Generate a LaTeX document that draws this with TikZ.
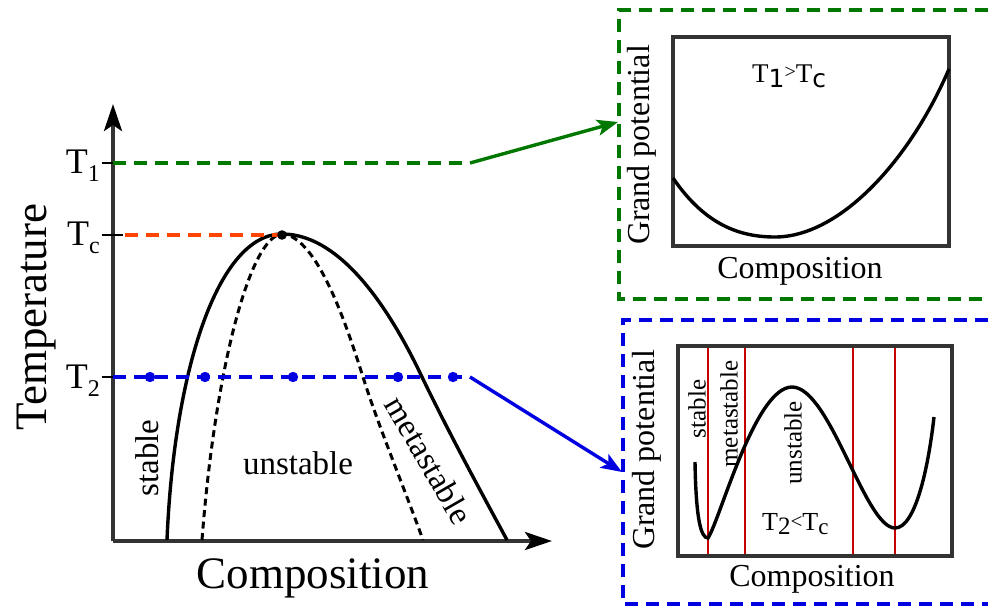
\documentclass[tikz,border=0pt]{standalone}
\usepackage{fontspec}
\setmainfont{Liberation Serif}
\newfontfamily\dvs{DejaVu Sans}
\usetikzlibrary{arrows.meta}
\definecolor{ggreen}{RGB}{0,120,0}
\definecolor{bblue}{RGB}{0,0,225}
\definecolor{oorange}{RGB}{255,69,0}
\definecolor{rred}{RGB}{200,0,0}
\definecolor{axgray}{RGB}{51,51,51}
\newcommand{\fs}[1]{\fontsize{#1}{#1}\selectfont}
\newcommand{\lowsub}[2]{\raisebox{-#1}{#2}}
\begin{document}
\begin{tikzpicture}[x=1pt,y=-1pt,
  axisline/.style={draw=axgray,line width=3.8pt},
  tickline/.style={draw=black,line width=2pt},
  bigtip/.style={-{Stealth[length=27pt,width=18pt,inset=6pt,color=black]}},
  conntip/.style={-{Stealth[length=21pt,width=16pt,inset=5pt]}},
  curve/.style={draw=black,line width=3.4pt},
  spinodal/.style={draw=black,line width=3pt,dash pattern=on 7pt off 4.5pt},
  tline/.style={line width=3.8pt,dash pattern=on 13pt off 8pt},
  panelframe/.style={line width=3.4pt,dash pattern=on 13pt off 8pt},
  innerbox/.style={draw=axgray,line width=3.8pt},
  redline/.style={draw=rred,line width=2.8pt},
  tlabel/.style={anchor=base east,inner sep=0pt,font=\fs{36}},
  biglabel/.style={inner sep=0pt,font=\fs{45}},
  midlabel/.style={inner sep=0pt,font=\fs{33}},
  panellabel/.style={inner sep=0pt,font=\fs{32}},
  smalllabel/.style={inner sep=0pt,font=\fs{25}},
  bdot/.style={fill=bblue}
]
\useasboundingbox (0,0) rectangle (988,608);

% ---------------- main phase diagram ----------------
\coordinate (O) at (113,541);
\coordinate (Ytip) at (113,104);
\coordinate (Xtip) at (552,541);
\draw[axisline,bigtip] (O) -- (Ytip);
\draw[axisline,bigtip] (O) -- (Xtip);

% ticks
\draw[tickline] (102,163) -- (113,163);
\draw[tickline] (102,235) -- (123,235);
\draw[tickline] (102,377) -- (113,377);

\node[tlabel] (lT1) at (100,173) {T\lowsub{8pt}{\fs{24}1}};
\node[tlabel] (lTc) at (100,245) {T\lowsub{8pt}{\fs{24}c}};
\node[tlabel] (lT2) at (100,388) {T\lowsub{8pt}{\fs{24}2}};

\node[biglabel,rotate=90] (ylab) at (37,317) {Temperature};
\node[biglabel] (xlab) at (313,578) {Composition};

% binodal (solid)
\draw[curve] (167,540) .. controls (174,370) and (218,234) .. (282,234)
  .. controls (345,234) and (395,320) .. (422,377)
  .. controls (450,435) and (480,490) .. (507,540);
% spinodal (dashed)
\draw[spinodal] (202,540) .. controls (215,370) and (250,236) .. (282,234)
  .. controls (318,236) and (348,330) .. (363,377)
  .. controls (378,425) and (405,490) .. (423,540);

% T1 line (green)
\coordinate (g1) at (113,163);
\coordinate (g2) at (470,163);
\draw[tline,draw=ggreen] (g1) -- (g2);
% Tc line (orange)
\coordinate (c1) at (125,235);
\coordinate (peak) at (282,235);
\draw[tline,draw=oorange] (c1) -- (peak);
\fill[black] (peak) circle (4.8);
% T2 line (blue)
\coordinate (b1) at (113,377);
\coordinate (b2) at (470,377);
\draw[tline,draw=bblue] (b1) -- (b2);
\foreach \xx in {150,205,293,398,453} \fill[bdot] (\xx,377) circle (5.2);

% region labels
\node[midlabel,rotate=90] (st) at (147,458) {stable};
\node[midlabel] (un) at (298,463) {unstable};
\node[midlabel,rotate=-60] (me) at (429,460) {metastable};

% ---------------- upper panel (T1 > Tc) ----------------
\coordinate (gtip) at (618,122);
\draw[ggreen,line width=3.4pt,conntip] (g2) -- (gtip);
\draw[panelframe,draw=ggreen] (988,10) -- (619,10) -- (619,299) -- (988,299);
\draw[innerbox] (673,37) rectangle (949,246);
\draw[curve] (673,178) .. controls (705,225) and (740,237) .. (775,237)
  .. controls (840,237) and (910,160) .. (949,69);
\node[panellabel,rotate=90] (gp1) at (642,145) {Grand potential};
\node[panellabel] (cp1) at (800,271) {Composition};
\node[inner sep=0pt,anchor=base west,font=\fs{27}] (t1c) at (752,82)
  {T\lowsub{5pt}{\dvs\fs{25}1}\raisebox{4pt}{\fs{20}>}T\lowsub{5pt}{\dvs\fs{25}c}};

% ---------------- lower panel (T2 < Tc) ----------------
\coordinate (btip) at (622,472);
\draw[bblue,line width=3.4pt,conntip] (b2) -- (btip);
\draw[panelframe,draw=bblue] (988,320) -- (623,320) -- (623,604) -- (988,604);
\draw[redline] (708,346) -- (708,556);
\draw[redline] (745,346) -- (745,556);
\draw[redline] (853,346) -- (853,556);
\draw[redline] (895,346) -- (895,556);
\draw[innerbox] (678,346) rectangle (952,556);
\draw[curve] (695,462) .. controls (696,520) and (701,538) .. (708,538)
  .. controls (720,520) and (755,387) .. (792,387)
  .. controls (830,387) and (865,528) .. (895,528)
  .. controls (915,528) and (928,470) .. (934,417);
\node[panellabel,rotate=90] (gp2) at (647,450) {Grand potential};
\node[panellabel] (cp2) at (812,579) {Composition};
\node[smalllabel,rotate=90] (st2) at (697,409) {stable};
\node[smalllabel,rotate=90] (me2) at (729,414) {metastable};
\node[smalllabel,rotate=90] (un2) at (793,443) {unstable};
\node[inner sep=0pt,anchor=base west,font=\fs{26}] (t2c) at (762,530)
  {T\lowsub{4pt}{\fs{25}2}\raisebox{2pt}{\fs{21}<}T\lowsub{4pt}{\fs{23}c}};
\end{tikzpicture}
\end{document}
